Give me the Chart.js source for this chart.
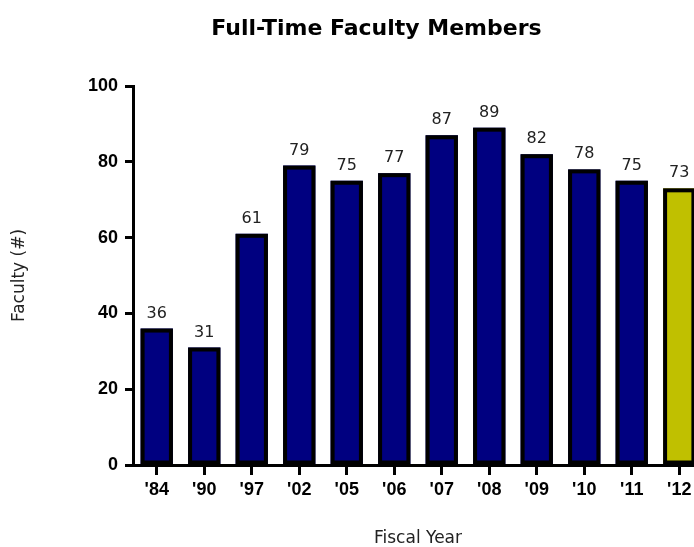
<!DOCTYPE html>
<html>
<head>
<meta charset="utf-8">
<script src="https://cdn.jsdelivr.net/npm/chart.js@4"></script>
<style>
  body { margin: 0; overflow: hidden; background: #fff; }
</style>
</head>
<body>
<canvas id="facultyChart" width="753" height="547"></canvas>
<script>
// Data
const years = ["'84", "'90", "'97", "'02", "'05", "'06", "'07", "'08", "'09", "'10", "'11", "'12"];
const faculty = [36, 31, 61, 79, 75, 77, 87, 89, 82, 78, 75, 73];
const yTicks = [0, 20, 40, 60, 80, 100];
const chartTitle = 'Full-Time Faculty Members';

const navy = '#000080';
const olive = '#C0C000';
const barColors = faculty.map((v, i) => i === faculty.length - 1 ? olive : navy);
const outline = 4;

/* Bar outlines, value labels and the title centred on the canvas */
const barExtras = {
    id: 'barExtras',
    afterDatasetsDraw(chart) {
        const ctx = chart.ctx;
        const meta = chart.getDatasetMeta(0);
        ctx.save();
        // black outline drawn inside each bar
        ctx.strokeStyle = '#000';
        ctx.lineWidth = outline;
        ctx.lineJoin = 'miter';
        meta.data.forEach((bar) => {
            const half = outline / 2;
            const left = bar.x - bar.width / 2 + half;
            const top = bar.y + half;
            ctx.strokeRect(left, top, bar.width - outline, bar.base - bar.y - outline);
        });
        // value labels
        ctx.font = '16px "DejaVu Sans"';
        ctx.fillStyle = '#222';
        ctx.textAlign = 'center';
        ctx.textBaseline = 'alphabetic';
        meta.data.forEach((bar, i) => {
            ctx.fillText(String(faculty[i]), bar.x, bar.y - 11);
        });
        ctx.restore();
    },
    afterDraw(chart) {
        const ctx = chart.ctx;
        ctx.save();
        ctx.font = 'bold 22px "DejaVu Sans"';
        ctx.fillStyle = '#000';
        ctx.textAlign = 'center';
        ctx.textBaseline = 'middle';
        ctx.fillText(chartTitle, chart.width / 2, 29);
        ctx.restore();
    }
};

const ctx = document.getElementById('facultyChart').getContext('2d');

new Chart(ctx, {
    type: 'bar',
    data: {
        labels: years,
        datasets: [{
            label: 'Faculty',
            data: faculty,
            backgroundColor: barColors,
            borderWidth: 0,
            inflateAmount: 0,
            categoryPercentage: 1,
            barPercentage: 0.68
        }]
    },
    options: {
        responsive: false,
        animation: false,
        layout: {
            padding: { left: 0, right: 50, top: 86, bottom: 0 }
        },
        plugins: {
            legend: { display: false },
            tooltip: { enabled: false },
            title: { display: false }
        },
        scales: {
            x: {
                offset: true,
                afterFit: (scale) => { scale.height = 82; },
                border: { display: true, color: '#000', width: 3, z: 1 },
                grid: {
                    display: true,
                    offset: false,
                    drawOnChartArea: false,
                    drawTicks: true,
                    tickLength: 10,
                    tickWidth: 3,
                    tickColor: '#000'
                },
                ticks: {
                    color: '#000',
                    padding: 4,
                    maxRotation: 0,
                    font: { family: 'Liberation Sans', size: 18, weight: 'bold' }
                },
                title: {
                    display: true,
                    text: 'Fiscal Year',
                    color: '#222',
                    font: { family: 'DejaVu Sans', size: 17, lineHeight: 1 },
                    padding: { top: 0, bottom: 0 }
                }
            },
            y: {
                min: 0,
                max: 100,
                afterFit: (scale) => { scale.width = 133; },
                afterBuildTicks: (scale) => {
                    scale.ticks = yTicks.map(v => ({ value: v }));
                },
                border: { display: true, color: '#000', width: 3 },
                grid: {
                    display: true,
                    drawOnChartArea: false,
                    drawTicks: true,
                    tickLength: 8,
                    tickWidth: 3,
                    tickColor: '#000'
                },
                ticks: {
                    color: '#000',
                    padding: 7,
                    font: { family: 'Liberation Sans', size: 18, weight: 'bold' }
                },
                title: {
                    display: true,
                    text: 'Faculty (#)',
                    color: '#222',
                    font: { family: 'DejaVu Sans', size: 17 },
                    padding: { top: 9, bottom: 0 }
                }
            }
        }
    },
    plugins: [barExtras]
});
</script>
</body>
</html>
